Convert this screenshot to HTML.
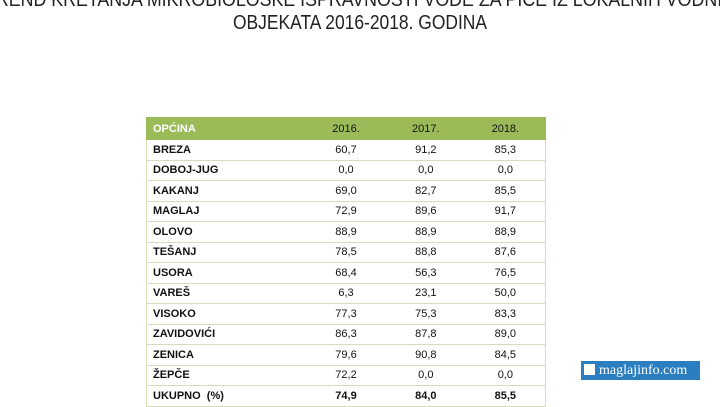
<!DOCTYPE html>
<html><head><meta charset="utf-8"><style>
body{margin:0;width:720px;height:400px;overflow:hidden;background:#fff;font-family:"Liberation Sans",sans-serif;position:relative}
svg.t{position:absolute;left:0;top:0}
table{position:absolute;left:146px;top:117px;width:400px;border-collapse:collapse;font-size:11px;color:#111}
td{height:19.5px;padding:0 0 0 6px;border:1px solid #d3dfb8;border-left:none;border-right:none}
tr td:first-child{border-left:1px solid #d3dfb8;font-weight:bold}
tr td:last-child{border-right:1px solid #d3dfb8}
td.n{text-align:center;padding:0}
tr.h td{background:#9bbb59;border-color:#9bbb59;height:21px}
tr.h td:first-child{color:#fff}
tr.b td{font-weight:bold}
.wm{position:absolute;left:581px;top:361px;width:119px;height:19px;background:#2b7fc1;color:#fff;font-family:"Liberation Serif",serif;font-size:14px;line-height:19px}
.wm i{display:inline-block;width:11px;height:11px;background:#fff;margin:0 4px 0 3px;vertical-align:-1px}
</style></head><body>
<svg class="t" width="720" height="40">
<text x="360" y="6" text-anchor="middle" font-family="Liberation Sans,sans-serif" font-size="20" textLength="750" lengthAdjust="spacingAndGlyphs" fill="#222">TREND KRETANJA MIKROBIOLOŠKE ISPRAVNOSTI VODE ZA PIĆE IZ LOKALNIH VODNIH</text>
<text x="360" y="29" text-anchor="middle" font-family="Liberation Sans,sans-serif" font-size="20" textLength="254" lengthAdjust="spacingAndGlyphs" fill="#222">OBJEKATA 2016-2018.  GODINA</text>
</svg>
<table>
<colgroup><col style="width:160px"><col style="width:80px"><col style="width:80px"><col style="width:80px"></colgroup>
<tr class="h"><td>OPĆINA</td><td class="n">2016.</td><td class="n">2017.</td><td class="n">2018.</td></tr>
<tr><td>BREZA</td><td class="n">60,7</td><td class="n">91,2</td><td class="n">85,3</td></tr>
<tr><td>DOBOJ-JUG</td><td class="n">0,0</td><td class="n">0,0</td><td class="n">0,0</td></tr>
<tr><td>KAKANJ</td><td class="n">69,0</td><td class="n">82,7</td><td class="n">85,5</td></tr>
<tr><td>MAGLAJ</td><td class="n">72,9</td><td class="n">89,6</td><td class="n">91,7</td></tr>
<tr><td>OLOVO</td><td class="n">88,9</td><td class="n">88,9</td><td class="n">88,9</td></tr>
<tr><td>TEŠANJ</td><td class="n">78,5</td><td class="n">88,8</td><td class="n">87,6</td></tr>
<tr><td>USORA</td><td class="n">68,4</td><td class="n">56,3</td><td class="n">76,5</td></tr>
<tr><td>VAREŠ</td><td class="n">6,3</td><td class="n">23,1</td><td class="n">50,0</td></tr>
<tr><td>VISOKO</td><td class="n">77,3</td><td class="n">75,3</td><td class="n">83,3</td></tr>
<tr><td>ZAVIDOVIĆI</td><td class="n">86,3</td><td class="n">87,8</td><td class="n">89,0</td></tr>
<tr><td>ZENICA</td><td class="n">79,6</td><td class="n">90,8</td><td class="n">84,5</td></tr>
<tr><td>ŽEPČE</td><td class="n">72,2</td><td class="n">0,0</td><td class="n">0,0</td></tr>
<tr class="b"><td>UKUPNO &nbsp;(%)</td><td class="n">74,9</td><td class="n">84,0</td><td class="n">85,5</td></tr>
</table>
<div class="wm"><i></i>maglajinfo.com</div>
</body></html>
